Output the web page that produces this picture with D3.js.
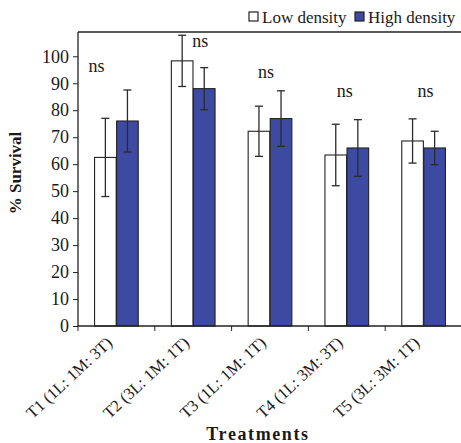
<!DOCTYPE html>
<html>
<head>
<meta charset="utf-8">
<script src="https://cdn.jsdelivr.net/npm/d3@7"></script>
<style>
  html, body { margin: 0; padding: 0; background: #ffffff; }
  svg { display: block; }
  text { font-family: "Liberation Serif", "Times New Roman", serif; fill: #1a1a1a; }
</style>
</head>
<body>
<svg id="chart" width="461" height="443"></svg>
<script>
// ---- data ----
const categories = ["T1 (1L: 1M: 3T)", "T2 (3L: 1M: 1T)", "T3 (1L: 1M: 1T)", "T4 (1L: 3M: 3T)", "T5 (3L: 3M: 1T)"];
const seriesNames = ["Low density", "High density"];
const lowDensity = [62.5, 98.3, 72.2, 63.4, 68.6];
const lowDensityErr = [14.5, 9.5, 9.3, 11.4, 8.2];
const highDensity = [76.0, 88.0, 76.9, 66.0, 66.0];
const highDensityErr = [11.5, 7.8, 10.3, 10.5, 6.2];
const significance = ["ns", "ns", "ns", "ns", "ns"];
const sigLevel = [94, 103.5, 92, 85, 85];          // height of each "ns" note, in % survival
const yTicks = [0, 10, 20, 30, 40, 50, 60, 70, 80, 90, 100];
const yMax = 109;

// ---- layout ----
const W = 461, H = 443;
const plot = { left: 78, top: 32, right: 462, bottom: 326 };
const nsShift = [-20, 7, -4, -2, 2];
const colors = { "Low density": "#ffffff", "High density": "#3d4aa2" };
const ink = "#222";

const svg = d3.select("#chart");

const x0 = d3.scaleBand().domain(categories).range([plot.left, plot.right]).padding(0);
const x1 = d3.scaleBand().domain(seriesNames).range([0, x0.bandwidth()]).paddingInner(0.02).paddingOuter(0.75);
const y = d3.scaleLinear().domain([0, yMax]).range([plot.bottom, plot.top]);

const rows = categories.map((c, i) => ({
  cat: c,
  vals: [
    { s: seriesNames[0], v: lowDensity[i], e: lowDensityErr[i] },
    { s: seriesNames[1], v: highDensity[i], e: highDensityErr[i] }
  ]
}));

// bars
const g = svg.append("g");
const groups = g.selectAll("g.cat").data(rows).join("g")
  .attr("class", "cat")
  .attr("transform", d => `translate(${x0(d.cat)},0)`);

groups.selectAll("rect").data(d => d.vals).join("rect")
  .attr("x", d => x1(d.s))
  .attr("y", d => y(d.v))
  .attr("width", x1.bandwidth())
  .attr("height", d => y(0) - y(d.v))
  .attr("fill", d => colors[d.s])
  .attr("stroke", ink)
  .attr("stroke-width", 1.1);

// error bars
const capW = 8;
const eb = groups.selectAll("g.err").data(d => d.vals).join("g").attr("class", "err")
  .attr("stroke", "#2b2b2b").attr("stroke-width", 1.3);
eb.append("line")
  .attr("x1", d => x1(d.s) + x1.bandwidth() / 2).attr("x2", d => x1(d.s) + x1.bandwidth() / 2)
  .attr("y1", d => y(Math.min(yMax, d.v + d.e))).attr("y2", d => y(d.v - d.e));
eb.append("line")
  .attr("x1", d => x1(d.s) + x1.bandwidth() / 2 - capW / 2).attr("x2", d => x1(d.s) + x1.bandwidth() / 2 + capW / 2)
  .attr("y1", d => y(Math.min(yMax, d.v + d.e))).attr("y2", d => y(Math.min(yMax, d.v + d.e)));
eb.append("line")
  .attr("x1", d => x1(d.s) + x1.bandwidth() / 2 - capW / 2).attr("x2", d => x1(d.s) + x1.bandwidth() / 2 + capW / 2)
  .attr("y1", d => y(d.v - d.e)).attr("y2", d => y(d.v - d.e));

// ns labels
svg.selectAll("text.ns").data(categories).join("text")
  .attr("class", "ns")
  .attr("x", (c, i) => x0(c) + x0.bandwidth() / 2 + nsShift[i])
  .attr("y", (c, i) => y(sigLevel[i]))
  .attr("text-anchor", "middle")
  .style("font-size", "18px")
  .text((c, i) => significance[i]);

// y axis
const yAxis = d3.axisLeft(y).tickValues(yTicks).tickSize(5).tickPadding(4);
const ya = svg.append("g").attr("transform", `translate(${plot.left},0)`).call(yAxis);
ya.select(".domain").attr("d", `M0,${plot.top}V${plot.bottom}`).attr("stroke", ink).attr("stroke-width", 1.3);
ya.selectAll(".tick line").attr("stroke", ink);
ya.selectAll(".tick text").style("font-family", '"Liberation Serif", serif').style("font-size", "18px").attr("fill", "#1a1a1a");

// x axis
const xa = svg.append("g").attr("transform", `translate(0,${plot.bottom})`);
xa.append("line").attr("x1", plot.left).attr("x2", plot.right).attr("stroke", ink).attr("stroke-width", 1.3);
xa.selectAll("line.tk").data(categories.concat(["_end"])).join("line").attr("class", "tk")
  .attr("x1", (c, i) => i < categories.length ? x0(c) : plot.right)
  .attr("x2", (c, i) => i < categories.length ? x0(c) : plot.right)
  .attr("y1", 0).attr("y2", 5).attr("stroke", ink);
xa.selectAll("text.xl").data(categories).join("text").attr("class", "xl")
  .attr("transform", c => `translate(${x0(c) + x0.bandwidth() / 2 - 3},${18}) rotate(-43)`)
  .attr("text-anchor", "end")
  .style("font-size", "16.5px")
  .text(c => c);

// top border
svg.append("line").attr("x1", plot.left).attr("x2", W).attr("y1", plot.top).attr("y2", plot.top)
  .attr("stroke", ink).attr("stroke-width", 1.5);

// axis titles
svg.append("text")
  .attr("transform", `translate(21,${(plot.top + plot.bottom) / 2 - 6}) rotate(-90)`)
  .attr("text-anchor", "middle")
  .style("font-size", "17px").style("font-weight", "bold")
  .text("% Survival");
svg.append("text")
  .attr("x", 258).attr("y", 440)
  .attr("text-anchor", "middle")
  .style("font-size", "18px").style("font-weight", "bold").style("letter-spacing", "1.6px")
  .text("Treatments");

// legend
const lg = svg.append("g").attr("transform", "translate(249,12)");
const items = lg.selectAll("g").data(seriesNames).join("g")
  .attr("transform", (d, i) => `translate(${i * 106},0)`);
items.append("rect").attr("width", 9).attr("height", 9)
  .attr("fill", d => colors[d]).attr("stroke", ink).attr("stroke-width", 1.2);
items.append("text").attr("x", 13).attr("y", 11).style("font-size", "17px").text(d => d);
</script>
</body>
</html>
